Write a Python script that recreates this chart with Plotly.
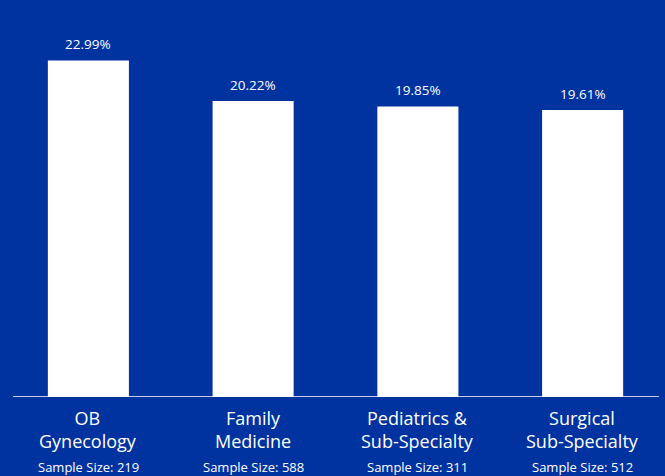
import plotly.graph_objects as go

# Specialty categories, share values (%) and sample sizes
specialties = ["OB<br>Gynecology", "Family<br>Medicine", "Pediatrics &<br>Sub-Specialty", "Surgical<br>Sub-Specialty"]
shares = [22.99, 20.22, 19.85, 19.61]
sample_sizes = [219, 588, 311, 512]

BG = "#0033A0"
FONT = "Open Sans"
positions = list(range(len(specialties)))

fig = go.Figure()
fig.add_trace(go.Bar(
    x=positions,
    y=shares,
    marker=dict(color="white", line=dict(width=0)),
    hoverinfo="skip",
))

annotations = []
for i, (name, val, n) in enumerate(zip(specialties, shares, sample_sizes)):
    # value label above each bar
    annotations.append(dict(
        x=i, y=val, xref="x", yref="y", text=f"{val:.2f}%",
        showarrow=False, yanchor="bottom", yshift=5,
        font=dict(family=FONT, size=13.5, color="white"),
    ))
    # specialty name below the baseline
    annotations.append(dict(
        x=i, y=0, xref="x", yref="y", text=name,
        showarrow=False, yanchor="top", yshift=-7,
        font=dict(family=FONT, size=18, color="white"),
    ))
    # sample size line
    annotations.append(dict(
        x=i, y=0, xref="x", yref="y", text=f"Sample Size: {n}",
        showarrow=False, yanchor="middle", yshift=-70,
        font=dict(family=FONT, size=13, color="white"),
    ))

fig.update_layout(
    width=665, height=476,
    margin=dict(l=6, r=0, t=31, b=79),
    paper_bgcolor=BG, plot_bgcolor=BG,
    bargap=0.508,
    showlegend=False,
    xaxis=dict(range=[-0.5, 3.5], showticklabels=False, showgrid=False,
               zeroline=False, showline=False, fixedrange=True),
    yaxis=dict(range=[0, 25], visible=False, fixedrange=True),
    annotations=annotations,
    shapes=[dict(type="line", xref="paper", yref="y", x0=0.0106, x1=0.991,
                 y0=0, y1=0, line=dict(color="white", width=1.5))],
    font=dict(family=FONT, color="white"),
)

fig.write_html("out.html", config={"displayModeBar": False})
